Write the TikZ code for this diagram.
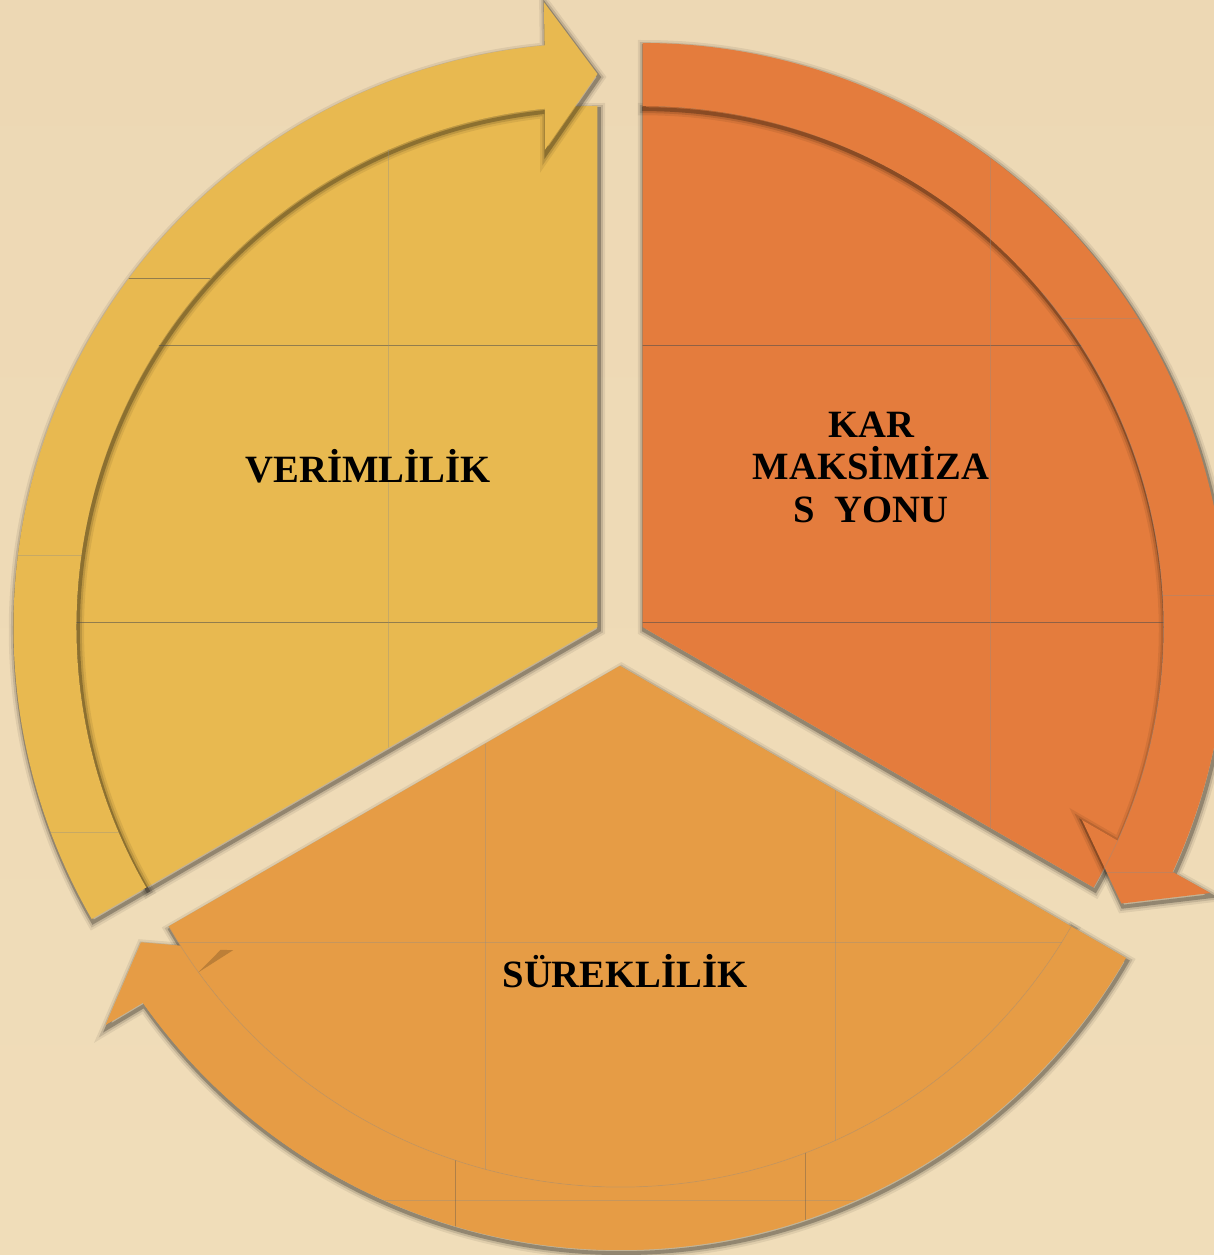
\documentclass[tikz,border=0pt]{standalone}
\usepackage{fontspec}
\setmainfont{Liberation Serif}
\usetikzlibrary{shadows}
\definecolor{cycyellow}{HTML}{E8B950}
\definecolor{cycorange}{HTML}{E47C3D}
\definecolor{cycamber}{HTML}{E69C45}
\definecolor{woodtop}{HTML}{EDD8B4}
\definecolor{woodmid}{HTML}{E9CCA8}
\definecolor{woodbot}{HTML}{F0DDB9}

\begin{document}
\begin{tikzpicture}[x=0.02cm, y=0.02cm,
  piece/.style={fill=#1,
    preaction={draw=black, line width=7pt, opacity=0.07, transform canvas={xshift=0.8pt, yshift=-1.8pt}},
    preaction={draw=black, line width=4.5pt, opacity=0.12, transform canvas={xshift=0.8pt, yshift=-1.8pt}},
    preaction={draw=black, line width=2.2pt, opacity=0.25, transform canvas={xshift=0.8pt, yshift=-1.8pt}}},
  cycsector/.style={insert path={(0,0) -- (#1:521) arc[start angle=#1, end angle=#1+120, radius=521] -- cycle}},
  cycband/.style={insert path={(#1+120:521) arc[start angle=#1+120, end angle=#1+5.8, radius=521]
      -- (#1+6.3:480) -- (#1:553) -- (#1+4.9:627) -- (#1+5.2:584)
      arc[start angle=#1+5.2, end angle=#1+120, radius=584] -- cycle}},
  seam/.style={black!70, line width=0.5pt, opacity=0.55},
  faint/.style={black!45, line width=0.4pt, opacity=0.35},
  cyclabel/.style={font=\fontsize{22}{24}\selectfont\bfseries, align=center, anchor=base}]
  \useasboundingbox (-620,-615) rectangle (594,640);
  \shade[top color=woodtop, middle color=woodmid, bottom color=woodbot] (-620,-615) rectangle (594,640);

  % exploded sectors, each with its own arc arrow
  \foreach \s/\col in {90/cycyellow, -30/cycorange, 210/cycamber} {
    \begin{scope}[shift={(\s+60:26)}]
      \fill[piece=\col, cycsector=\s];
      \fill[piece=\col, cycband=\s];
    \end{scope}
  }

  % texture seams
  \begin{scope}[shift={(150:26)}]
    \begin{scope}
      \clip[cycsector=90];
      \draw[seam] (-700,282) -- (700,282) (-700,5) -- (700,5);
      \draw[faint] (-209.5,-700) -- (-209.5,700);
    \end{scope}
    \begin{scope}
      \clip[cycband=90];
      \draw[seam] (-700,349) -- (700,349);
      \draw[faint] (-700,72) -- (700,72) (-700,-205) -- (700,-205);
    \end{scope}
  \end{scope}
  \begin{scope}[shift={(30:26)}]
    \begin{scope}
      \clip[cycsector=-30];
      \draw[seam] (-700,282) -- (700,282) (-700,5) -- (700,5);
      \draw[faint] (347.5,-700) -- (347.5,700);
    \end{scope}
    \begin{scope}
      \clip[cycband=-30];
      \draw[faint] (-700,309) -- (700,309) (-700,32) -- (700,32) (-700,-245) -- (700,-245);
      \draw[faint] (347.5,-700) -- (347.5,700);
    \end{scope}
    \draw[faint] (-30:521) arc[start angle=-30, end angle=40, radius=521];
  \end{scope}
  \begin{scope}[shift={(270:26)}]
    % no band shadow on the lower sector
    \fill[cycamber, cycsector=210];
    \fill[cycamber, cycband=210];
    \fill[black, opacity=0.18] (216.3:480) -- (215.4:490) -- (216:521) -- cycle;
    \begin{scope}
      \clip[cycsector=210];
      \draw[faint] (-700,-276) -- (700,-276);
      \draw[faint] (-135,-700) -- (-135,700) (215,-700) -- (215,700);
    \end{scope}
    \begin{scope}
      \clip[cycband=210];
      \draw[faint] (-700,-534) -- (700,-534);
      \draw[seam, opacity=0.35] (-165,-700) -- (-165,700) (185,-700) -- (185,700);
    \end{scope}
    \draw[faint] (210:521) arc[start angle=210, end angle=330, radius=521];
  \end{scope}

  \node[cyclabel] (verimlilik) at (-252,158) {VERİMLİLİK};
  \node[cyclabel] (karmaks) at (251,118) {KAR\\MAKSİMİZA\\S\ \ YONU};
  \node[cyclabel] (sureklilik) at (5,-347) {SÜREKLİLİK};
\end{tikzpicture}
\end{document}
